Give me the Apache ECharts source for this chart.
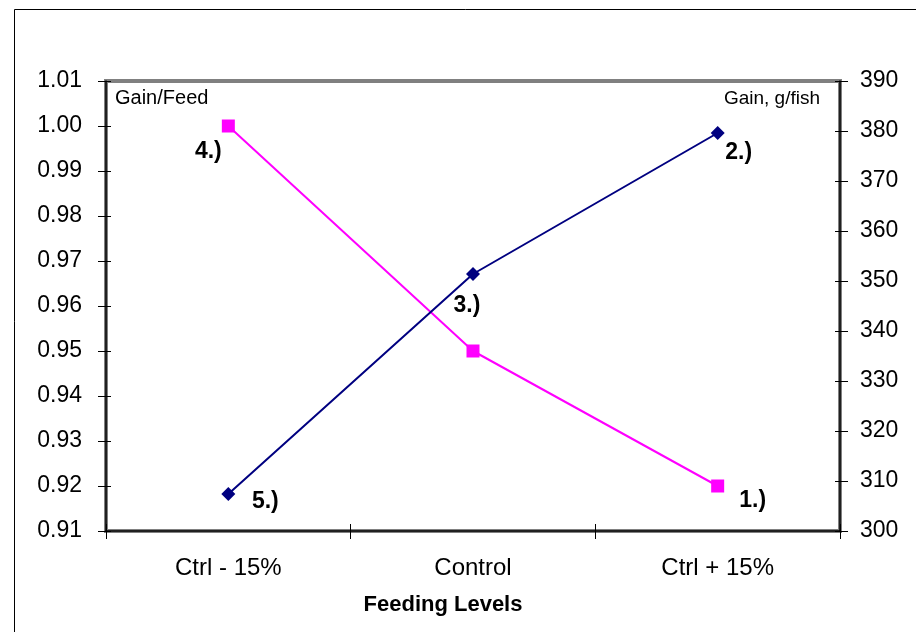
<!DOCTYPE html>
<html>
<head>
<meta charset="utf-8">
<script src="https://cdn.jsdelivr.net/npm/echarts@6/dist/echarts.min.js"></script>
<style>
  html, body { margin: 0; padding: 0; background: #fff; }
  #chart { width: 916px; height: 632px; }
</style>
</head>
<body>
<div id="chart"></div>
<script>
const categories = ['Ctrl - 15%', 'Control', 'Ctrl + 15%'];
const gainFeed = [1.00, 0.95, 0.92];
const gainPerFish = [307.4, 351.4, 379.6];
const gainFeedLabels = ['4.)', '', '1.)'];
const gainPerFishLabels = ['5.)', '3.)', '2.)'];
const leftAxisName = 'Gain/Feed';
const rightAxisName = 'Gain, g/fish';
const xAxisTitle = 'Feeding Levels';

const FONT = '"Liberation Sans", Arial, sans-serif';
const chart = echarts.init(document.getElementById('chart'), null, { renderer: 'canvas' });

const gfOffsets = [[-20, 26], [0, 0], [35, 15]];
const gpOffsets = [[37, 8], [-6, 32], [21, 20]];

function labelItem(text, off) {
  return {
    show: text !== '',
    formatter: text,
    position: 'inside',
    offset: off,
    color: '#000',
    fontFamily: FONT,
    fontWeight: 'bold',
    fontSize: 23
  };
}

const leftBase = { type: 'value', min: 0.91, max: 1.01, interval: 0.01 };
const rightBase = { type: 'value', min: 300, max: 390, interval: 10 };

const option = {
  animation: false,
  backgroundColor: '#fff',
  grid: {
    left: 106, right: 76, top: 81, bottom: 101,
    show: true, borderColor: '#808080', borderWidth: 4, backgroundColor: '#fff'
  },
  xAxis: [
    {
      type: 'category', data: categories, position: 'bottom', boundaryGap: true,
      axisLine: { show: true, lineStyle: { color: '#000', width: 1.5 } },
      axisTick: { show: true, length: 8, lineStyle: { color: '#000', width: 1 } },
      axisLabel: { color: '#000', fontFamily: FONT, fontSize: 24, margin: 25 },
      splitLine: { show: false }
    },
    {
      type: 'category', data: categories, position: 'bottom', boundaryGap: true,
      axisLine: { show: false },
      axisTick: { show: true, inside: true, length: 7, lineStyle: { color: '#000', width: 1 } },
      axisLabel: { show: false },
      splitLine: { show: false }
    }
  ],
  yAxis: [
    Object.assign({}, leftBase, {
      position: 'left',
      axisLine: { show: true, lineStyle: { color: '#000', width: 1.5 } },
      axisTick: { show: true, length: 8, lineStyle: { color: '#000', width: 1 } },
      axisLabel: { color: '#000', fontFamily: FONT, fontSize: 23, margin: 24,
        formatter: v => v.toFixed(2) },
      splitLine: { show: false }
    }),
    Object.assign({}, rightBase, {
      position: 'right',
      axisLine: { show: true, lineStyle: { color: '#000', width: 1.5 } },
      axisTick: { show: true, length: 8, lineStyle: { color: '#000', width: 1 } },
      axisLabel: { color: '#000', fontFamily: FONT, fontSize: 23, margin: 20 },
      splitLine: { show: false }
    }),
    Object.assign({}, leftBase, {
      position: 'left',
      axisLine: { show: false },
      axisTick: { show: true, inside: true, length: 5, lineStyle: { color: '#000', width: 1 } },
      axisLabel: { show: false },
      splitLine: { show: false }
    }),
    Object.assign({}, rightBase, {
      position: 'right',
      axisLine: { show: false },
      axisTick: { show: true, inside: true, length: 5, lineStyle: { color: '#000', width: 1 } },
      axisLabel: { show: false },
      splitLine: { show: false }
    })
  ],
  graphic: [
    { type: 'rect', left: 12, top: 7, shape: { width: 1000, height: 1000 },
      style: { fill: 'none', stroke: '#000', lineWidth: 1 }, z: -10, silent: true },
    { type: 'text', left: 115, top: 88,
      style: { text: leftAxisName, font: '20px ' + FONT, fill: '#000' }, z: 100 },
    { type: 'text', right: 96, top: 89,
      style: { text: rightAxisName, font: '19px ' + FONT, fill: '#000', textAlign: 'right' }, z: 100 },
    { type: 'text', x: 443, y: 605,
      style: { text: xAxisTitle, font: 'bold 22px ' + FONT, fill: '#000', textAlign: 'center', textVerticalAlign: 'middle' }, z: 100 }
  ],
  series: [
    {
      name: leftAxisName, type: 'line', xAxisIndex: 0, yAxisIndex: 0,
      data: gainFeed.map((v, i) => ({ value: v, label: labelItem(gainFeedLabels[i], gfOffsets[i]) })),
      symbol: 'rect', symbolSize: 13,
      lineStyle: { color: '#FF00FF', width: 2 },
      itemStyle: { color: '#FF00FF' },
      z: 5
    },
    {
      name: rightAxisName, type: 'line', xAxisIndex: 0, yAxisIndex: 1,
      data: gainPerFish.map((v, i) => ({ value: v, label: labelItem(gainPerFishLabels[i], gpOffsets[i]) })),
      symbol: 'diamond', symbolSize: 14,
      lineStyle: { color: '#000080', width: 2 },
      itemStyle: { color: '#000080' },
      z: 6
    }
  ]
};
chart.setOption(option);
</script>
</body>
</html>
